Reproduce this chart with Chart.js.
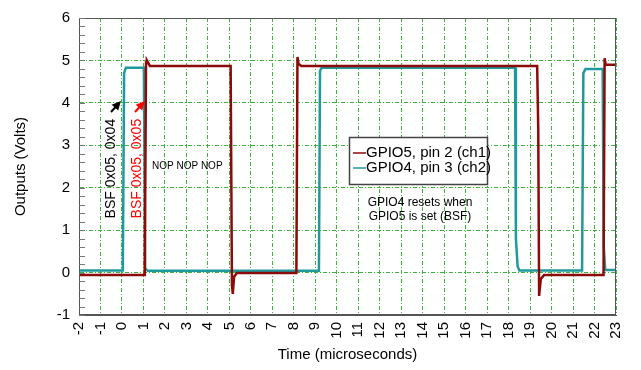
<!DOCTYPE html>
<html>
<head>
<meta charset="utf-8">
<script src="https://cdn.jsdelivr.net/npm/chart.js@4.4.1/dist/chart.umd.min.js"></script>
<style>
  html, body { margin: 0; padding: 0; background: #fff; }
  #wrap { width: 641px; height: 370px; }
</style>
</head>
<body>
<div id="wrap"><canvas id="scope"></canvas></div>
<script>
// ch1: GPIO5, pin 2 (time in us, volts)
const ch1Time = [-2, 1.06, 1.12, 1.16, 1.3, 5.06, 5.12, 5.16, 5.22, 5.35, 8.12, 8.17, 8.22, 8.35, 19.33, 19.38, 19.42, 19.5, 19.65, 22.42, 22.47, 22.52, 22.65, 23];
const ch1Volts = [-0.06, -0.06, 4.95, 5.0, 4.87, 4.87, -0.3, -0.5, -0.1, -0.01, -0.01, 5.08, 4.92, 4.87, 4.87, 3.4, -0.55, -0.15, -0.06, -0.06, 5.05, 4.9, 4.9, 4.9];

// ch2: GPIO4, pin 3
const ch2Time = [-2, 0.04, 0.1, 0.18, 1.02, 1.08, 1.2, 9.17, 9.22, 9.3, 18.3, 18.34, 18.42, 18.5, 21.42, 21.48, 21.58, 22.38, 22.43, 22.5, 23];
const ch2Volts = [0.05, 0.05, 4.7, 4.83, 4.83, 0.1, 0.04, 0.04, 4.75, 4.83, 4.83, 0.8, 0.15, 0.05, 0.05, 4.7, 4.8, 4.8, 0.6, 0.06, 0.06];

const xTicks = [-2, 23];
const yTicks = [-1, 6];

const legendLabels = ['GPIO5, pin 2 (ch1)', 'GPIO4, pin 3 (ch2)'];
const traceColors = ['#8c0a0a', '#1f9a9c'];

const toPoints = (xs, ys) => xs.map((x, i) => ({ x: x, y: ys[i] }));

// draws the frame, minor ticks, legend box and notes
const decorations = {
    id: 'decorations',
    afterDatasetsDraw(chart) {
        const ctx = chart.ctx;
        const a = chart.chartArea;
        const xs = chart.scales.x;
        const ys = chart.scales.y;
        ctx.save();

        // frame
        ctx.strokeStyle = '#555';
        ctx.lineWidth = 1;
        ctx.strokeRect(a.left + 0.5, a.top + 0.5, a.right - a.left - 1, a.bottom - a.top - 1);

        // minor ticks on left axis
        ctx.strokeStyle = '#777';
        ctx.beginPath();
        for (let v = -1; v <= 6.001; v += 0.2) {
            const py = Math.round(ys.getPixelForValue(v)) + 0.5;
            ctx.moveTo(a.left, py);
            ctx.lineTo(a.left + 6, py);
        }
        ctx.stroke();

        // legend
        const lx = 349, ly = 137, lw = 138, lh = 47;
        ctx.fillStyle = '#fff';
        ctx.fillRect(lx, ly, lw, lh);
        ctx.strokeStyle = '#444';
        ctx.lineWidth = 1.5;
        ctx.strokeRect(lx + 0.5, ly + 0.5, lw, lh);
        ctx.font = '15px "Liberation Sans", Arial, sans-serif';
        ctx.textBaseline = 'middle';
        ctx.textAlign = 'left';
        legendLabels.forEach((label, i) => {
            const cy = ly + 16 + i * 15;
            ctx.strokeStyle = traceColors[i];
            ctx.lineWidth = 1.5;
            ctx.beginPath();
            ctx.moveTo(lx + 4, cy);
            ctx.lineTo(lx + 17, cy);
            ctx.stroke();
            ctx.fillStyle = '#000';
            ctx.fillText(label, lx + 17, cy);
        });

        // rotated instruction labels
        const rotText = (text, xv, yv, color) => {
            ctx.save();
            ctx.translate(xs.getPixelForValue(xv), ys.getPixelForValue(yv));
            ctx.rotate(-Math.PI / 2);
            ctx.fillStyle = color;
            ctx.font = '14px "Liberation Sans", Arial, sans-serif';
            ctx.textAlign = 'center';
            ctx.textBaseline = 'middle';
            ctx.fillText(text, 0, 0);
            ctx.restore();
        };
        rotText('BSF 0x05, 0x04', -0.52, 2.45, '#000');
        rotText('BSF 0x05, 0x05', 0.7, 2.45, '#ff0000');

        // small arrows pointing up-right
        const arrow = (x0, y0, x1, y1, color) => {
            const ang = Math.atan2(y1 - y0, x1 - x0);
            ctx.strokeStyle = color;
            ctx.fillStyle = color;
            ctx.lineWidth = 2;
            ctx.beginPath();
            ctx.moveTo(x0, y0);
            ctx.lineTo(x1 - 4 * Math.cos(ang), y1 - 4 * Math.sin(ang));
            ctx.stroke();
            ctx.beginPath();
            ctx.moveTo(x1, y1);
            ctx.lineTo(x1 - 10 * Math.cos(ang - 0.45), y1 - 10 * Math.sin(ang - 0.45));
            ctx.lineTo(x1 - 10 * Math.cos(ang + 0.45), y1 - 10 * Math.sin(ang + 0.45));
            ctx.closePath();
            ctx.fill();
        };
        arrow(111, 112, 121, 101, '#000');
        arrow(135, 112, 145, 101, '#ff0000');

        // notes
        ctx.fillStyle = '#000';
        ctx.textAlign = 'left';
        ctx.textBaseline = 'middle';
        ctx.font = '10px "Liberation Sans", Arial, sans-serif';
        ctx.fillText('NOP NOP NOP', 152, 166);
        ctx.textAlign = 'center';
        ctx.font = '12px "Liberation Sans", Arial, sans-serif';
        ctx.fillText('GPIO4 resets when', 420, 203);
        ctx.fillText('GPIO5 is set (BSF)', 420, 217);

        ctx.restore();
    }
};

const gridStyle = {
    color: '#3cb43c',
    lineWidth: 1,
    drawTicks: false
};

new Chart(document.getElementById('scope'), {
    type: 'scatter',
    data: {
        datasets: [{
            label: legendLabels[0],
            data: toPoints(ch1Time, ch1Volts),
            showLine: true,
            borderColor: traceColors[0],
            borderWidth: 2.5,
            pointRadius: 0,
            tension: 0
        }, {
            label: legendLabels[1],
            data: toPoints(ch2Time, ch2Volts),
            showLine: true,
            borderColor: traceColors[1],
            borderWidth: 2.5,
            pointRadius: 0,
            tension: 0
        }]
    },
    options: {
        responsive: true,
        maintainAspectRatio: false,
        animation: false,
        layout: { padding: { top: 9, right: 14, left: 0, bottom: 0 } },
        plugins: {
            legend: { display: false },
            tooltip: { enabled: false }
        },
        scales: {
            x: {
                type: 'linear',
                min: xTicks[0],
                max: xTicks[1],
                afterFit: (scale) => { scale.height = 55; },
                grid: gridStyle,
                border: { display: true, color: '#555', dash: [4, 2, 1, 2] },
                ticks: {
                    stepSize: 1,
                    minRotation: 90,
                    maxRotation: 90,
                    padding: 7,
                    color: '#000',
                    font: { family: '"Liberation Sans", Arial, sans-serif', size: 15 }
                },
                title: {
                    display: true,
                    text: 'Time (microseconds)',
                    color: '#000',
                    padding: { top: 0, bottom: 6 },
                    font: { family: '"Liberation Sans", Arial, sans-serif', size: 15 }
                }
            },
            y: {
                min: yTicks[0],
                max: yTicks[1],
                afterFit: (scale) => { scale.width = 79; },
                grid: gridStyle,
                border: { display: true, color: '#555', dash: [4, 2, 1, 2] },
                ticks: {
                    stepSize: 1,
                    padding: 9,
                    color: '#000',
                    font: { family: '"Liberation Sans", Arial, sans-serif', size: 15 }
                },
                title: {
                    display: true,
                    text: 'Outputs (Volts)',
                    color: '#000',
                    padding: { top: 12, bottom: 0 },
                    font: { family: '"Liberation Sans", Arial, sans-serif', size: 15 }
                }
            }
        }
    },
    plugins: [decorations]
});
</script>
</body>
</html>
